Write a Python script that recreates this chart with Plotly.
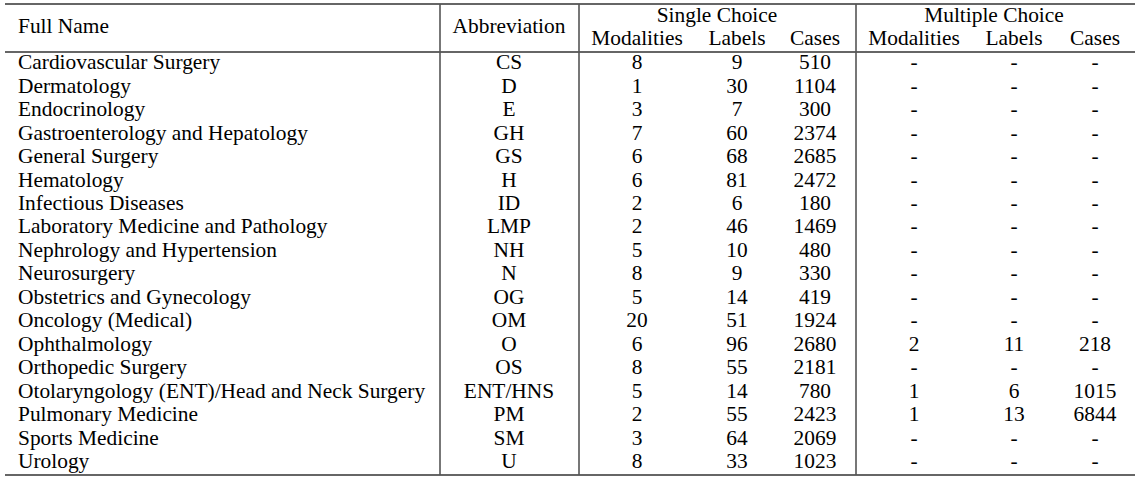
import plotly.graph_objects as go

full_names = ["Cardiovascular Surgery", "Dermatology", "Endocrinology", "Gastroenterology and Hepatology",
              "General Surgery", "Hematology", "Infectious Diseases", "Laboratory Medicine and Pathology",
              "Nephrology and Hypertension", "Neurosurgery", "Obstetrics and Gynecology", "Oncology (Medical)",
              "Ophthalmology", "Orthopedic Surgery", "Otolaryngology (ENT)/Head and Neck Surgery",
              "Pulmonary Medicine", "Sports Medicine", "Urology"]
abbrevs = ["CS", "D", "E", "GH", "GS", "H", "ID", "LMP", "NH", "N", "OG", "OM", "O", "OS", "ENT/HNS", "PM", "SM", "U"]
sc_modalities = [8, 1, 3, 7, 6, 6, 2, 2, 5, 8, 5, 20, 6, 8, 5, 2, 3, 8]
sc_labels = [9, 30, 7, 60, 68, 81, 6, 46, 10, 9, 14, 51, 96, 55, 14, 55, 64, 33]
sc_cases = [510, 1104, 300, 2374, 2685, 2472, 180, 1469, 480, 330, 419, 1924, 2680, 2181, 780, 2423, 2069, 1023]
mc_modalities = ["-"] * 12 + [2, "-", 1, 1, "-", "-"]
mc_labels = ["-"] * 12 + [11, "-", 6, 13, "-", "-"]
mc_cases = ["-"] * 12 + [218, "-", 1015, 6844, "-", "-"]

group_headers = ["Single Choice", "Multiple Choice"]
sub_headers = ["Modalities", "Labels", "Cases"]

W, H = 1143, 479
FONT = dict(family="Liberation Serif, Times New Roman, serif", size=21.4, color="black")

row0, dy = 64, 23.45
rows_y = [row0 + i * dy for i in range(len(full_names))]

fig = go.Figure()

def add_text(xs, ys, texts, pos="middle center"):
    fig.add_trace(go.Scatter(x=xs, y=ys, text=[str(t) for t in texts], mode="text",
                             textposition=pos, textfont=FONT, hoverinfo="skip", showlegend=False))

n = len(full_names)
add_text([18] * n, rows_y, full_names, pos="middle right")
add_text([509] * n, rows_y, abbrevs)
col_x = [637, 737, 815, 914, 1014, 1095]
for cx, vals in zip(col_x, [sc_modalities, sc_labels, sc_cases, mc_modalities, mc_labels, mc_cases]):
    add_text([cx] * n, rows_y, vals)

# headers
add_text([18], [28], ["Full Name"], pos="middle right")
add_text([509], [28], ["Abbreviation"])
add_text([717, 994], [17, 17], group_headers)
add_text(col_x, [40] * 6, sub_headers * 2)

shapes = []
for y in [4, 52, 475]:
    shapes.append(dict(type="line", x0=5, x1=1135, y0=y, y1=y, xref="x", yref="y",
                       line=dict(color="#333333", width=1.6)))
for x in [440, 579, 856]:
    shapes.append(dict(type="line", x0=x, x1=x, y0=4, y1=475, xref="x", yref="y",
                       line=dict(color="#555555", width=1.6)))

fig.update_layout(
    width=W, height=H, margin=dict(l=0, r=0, t=0, b=0),
    paper_bgcolor="white", plot_bgcolor="white",
    xaxis=dict(range=[0, W], visible=False, fixedrange=True),
    yaxis=dict(range=[H, 0], visible=False, fixedrange=True),
    shapes=shapes,
)
fig.write_html("out.html", config={"displayModeBar": False},
               post_script="document.body.style.margin='0';document.body.style.overflow='hidden';")
